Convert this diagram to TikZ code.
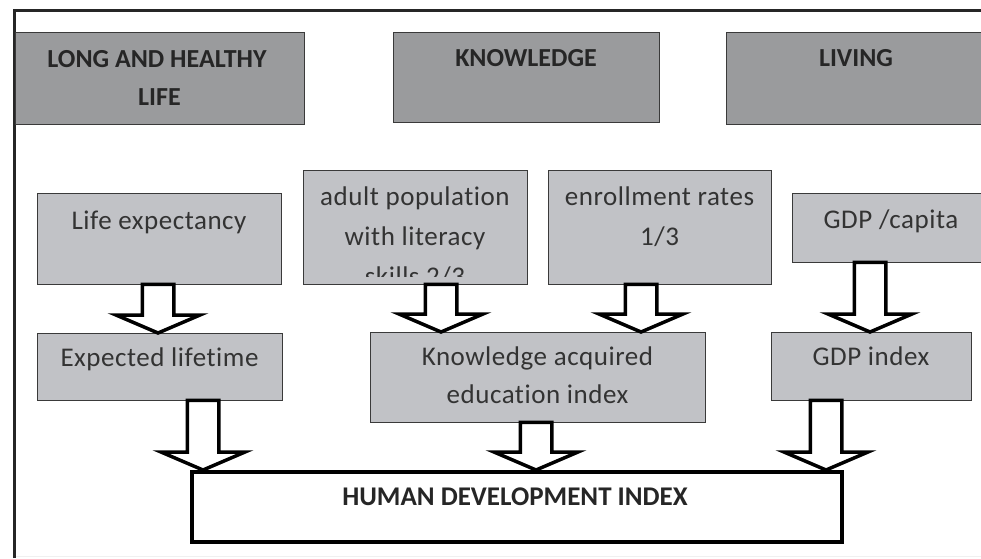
\documentclass[tikz,border=0pt]{standalone}
\usepackage{fontspec}
\setmainfont{Carlito}[Ligatures=NoCommon]
\newfontfamily\bodyfont{Carlito}[LetterSpace=2,Ligatures=NoCommon]
\usetikzlibrary{calc}

\definecolor{hdrfill}{HTML}{9A9B9D}
\definecolor{boxfill}{HTML}{C1C2C6}
\definecolor{edge}{HTML}{3A3A3A}
\definecolor{ink}{HTML}{262626}
\definecolor{bodyink}{HTML}{333333}

\tikzset{
  hdr/.style={draw=edge, line width=1.4pt, fill=hdrfill, inner sep=0pt, anchor=north west},
  cell/.style={draw=edge, line width=1.4pt, fill=boxfill, inner sep=0pt, anchor=north west},
  total/.style={draw=black, line width=3.5pt, fill=white, inner sep=0pt, anchor=north west},
  hdrtxt/.style={anchor=base, inner sep=0pt, text=ink, font=\fontsize{26}{30}\selectfont\bfseries},
  celltxt/.style={anchor=base, inner sep=0pt, text=bodyink, font=\bodyfont\fontsize{27}{32}\selectfont},
  hditxt/.style={anchor=base, inner sep=0pt, text=ink, font=\fontsize{27}{32}\selectfont\bfseries},
  hollow/.style={draw=black, fill=white, line width=3.5pt, line join=miter},
  frameline/.style={draw=ink, line width=3pt},
}

% hollow block arrow: #1 = x position, #2 = source node, #3 = target node
\newcommand\flowarrow[3]{%
  \draw[hollow] let \p1=(#1,0), \p2=(#2.south), \p3=(#3.north) in
    (\x1-15.75pt,\y2+1pt) -- (\x1+15.75pt,\y2+1pt) -- (\x1+15.75pt,\y3+18pt)
    -- (\x1+42pt,\y3+18pt) -- (\x1,\y3) -- (\x1-42pt,\y3+18pt)
    -- (\x1-15.75pt,\y3+18pt) -- cycle;}

\begin{document}
\begin{tikzpicture}[x=1pt,y=-1pt]
\useasboundingbox (0,0) rectangle (981,558);
\clip (0,0) rectangle (981,558);

% outer frame
\draw[frameline] (14.5,558) -- (14.5,10) -- (981,10);
\draw[gray!12, line width=1pt] (16,556.5) -- (981,556.5);

% top row: dimensions
\node[hdr, minimum width=289pt, minimum height=92pt] (health) at (15,32) {};
\node[hdr, minimum width=266pt, minimum height=90pt] (know) at (393,32) {};
\node[hdr, minimum width=262pt, minimum height=92pt] (living) at (726,32) {};
\node[hdrtxt] (health-t1) at (157,67) {LONG AND HEALTHY};
\node[hdrtxt] (health-t2) at (159.5,105) {LIFE};
\node[hdrtxt] (know-t) at (526,66) {KNOWLEDGE};
\node[hdrtxt] (living-t) at (856,66) {LIVING};

% second row: indicators
\node[cell, minimum width=244pt, minimum height=91pt] (life) at (37,193) {};
\node[cell, minimum width=224pt, minimum height=114pt] (adult) at (303,170) {};
\node[cell, minimum width=223pt, minimum height=114pt] (enroll) at (548,170) {};
\node[cell, minimum width=200pt, minimum height=69pt] (gdpcap) at (792,193) {};
\node[celltxt] (life-t) at (159,229) {Life expectancy};
\node[celltxt] (adult-t1) at (415,205) {adult population};
\node[celltxt] (adult-t2) at (415,245) {with literacy};
\begin{scope}
  % the text frame of this box cuts its third line short
  \clip (adult.north west) rectangle (adult.east |- 0,276.5);
  \node[celltxt] (adult-t3) at (415,285) {skills 2/3};
\end{scope}
\node[celltxt] (enroll-t1) at (659.5,205) {enrollment rates};
\node[celltxt] (enroll-t2) at (659.5,245) {1/3};
\node[celltxt] (gdpcap-t) at (891,228) {GDP /capita};

% third row: indices
\node[cell, minimum width=245pt, minimum height=67pt] (expected) at (37,333) {};
\node[cell, minimum width=335pt, minimum height=90pt] (knowacq) at (370,332) {};
\node[cell, minimum width=200pt, minimum height=68pt] (gdpidx) at (771,332) {};
\node[celltxt] (expected-t) at (159.5,366) {Expected lifetime};
\node[celltxt] (knowacq-t1) at (537.5,365) {Knowledge acquired};
\node[celltxt] (knowacq-t2) at (537.5,403) {education index};
\node[celltxt] (gdpidx-t) at (871,365) {GDP index};

% result
\node[total, minimum width=650pt, minimum height=70pt] (hdi) at (190,470) {};
\node[hditxt] (hdi-t) at (515,505) {HUMAN DEVELOPMENT INDEX};

% connectors
\flowarrow{158}{life}{expected}
\flowarrow{441}{adult}{knowacq}
\flowarrow{641}{enroll}{knowacq}
\flowarrow{870}{gdpcap}{gdpidx}
\flowarrow{203}{expected}{hdi}
\flowarrow{536}{knowacq}{hdi}
\flowarrow{826}{gdpidx}{hdi}
\end{tikzpicture}
\end{document}
